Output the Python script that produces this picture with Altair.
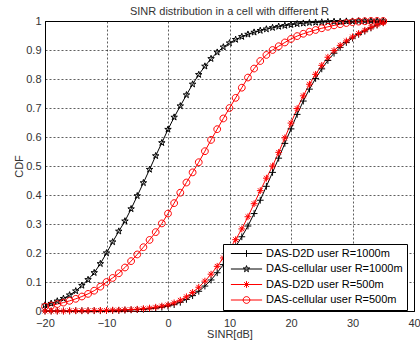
import altair as alt
import pandas as pd

SINR = list(range(-20, 36))

SERIES = [
    "DAS-D2D user R=1000m",
    "DAS-cellular user R=1000m",
    "DAS-D2D user R=500m",
    "DAS-cellular user R=500m",
]
COLORS = ["#000000", "#000000", "#ff0000", "#ff0000"]

D2D_1000 = [0.000, 0.000, 0.000, 0.000, 0.000, 0.001, 0.001, 0.001, 0.001, 0.001,
            0.002, 0.002, 0.002, 0.003, 0.004, 0.005, 0.006, 0.008, 0.010, 0.013,
            0.017, 0.022, 0.030, 0.040, 0.053, 0.068, 0.086, 0.107, 0.132, 0.160,
            0.192, 0.222, 0.256, 0.293, 0.336, 0.382, 0.430, 0.478, 0.527, 0.578,
            0.628, 0.678, 0.724, 0.765, 0.802, 0.835, 0.864, 0.889, 0.909, 0.926,
            0.941, 0.954, 0.965, 0.976, 0.986, 0.994]
CELL_1000 = [0.020, 0.026, 0.034, 0.043, 0.055, 0.069, 0.088, 0.108, 0.132, 0.163,
             0.200, 0.238, 0.275, 0.310, 0.352, 0.397, 0.442, 0.488, 0.535, 0.580,
             0.626, 0.668, 0.707, 0.745, 0.782, 0.815, 0.844, 0.870, 0.892, 0.910,
             0.924, 0.936, 0.946, 0.954, 0.961, 0.967, 0.972, 0.977, 0.981, 0.984,
             0.987, 0.990, 0.992, 0.994, 0.995, 0.996, 0.997, 0.998, 0.998, 0.999,
             0.999, 1.000, 1.000, 1.000, 1.000, 1.000]
D2D_500 = [0.000, 0.000, 0.000, 0.000, 0.001, 0.001, 0.001, 0.001, 0.002, 0.002,
           0.002, 0.003, 0.003, 0.004, 0.005, 0.006, 0.008, 0.010, 0.013, 0.017,
           0.021, 0.028, 0.037, 0.049, 0.064, 0.082, 0.103, 0.127, 0.154, 0.183,
           0.214, 0.246, 0.283, 0.325, 0.370, 0.415, 0.458, 0.500, 0.547, 0.597,
           0.648, 0.698, 0.742, 0.782, 0.816, 0.847, 0.875, 0.898, 0.916, 0.931,
           0.945, 0.957, 0.968, 0.978, 0.987, 0.994]
CELL_500 = [0.015, 0.019, 0.024, 0.029, 0.035, 0.042, 0.050, 0.059, 0.070, 0.084,
            0.100, 0.114, 0.130, 0.150, 0.172, 0.195, 0.220, 0.245, 0.272, 0.302,
            0.336, 0.372, 0.408, 0.443, 0.478, 0.513, 0.551, 0.590, 0.627, 0.664,
            0.700, 0.735, 0.770, 0.805, 0.836, 0.862, 0.883, 0.900, 0.913, 0.926,
            0.938, 0.948, 0.956, 0.963, 0.969, 0.975, 0.980, 0.985, 0.989, 0.993,
            0.996, 0.998, 0.999, 1.000, 1.000, 1.000]

X_TICKS = [-20, -10, 0, 10, 20, 30, 40]
Y_TICKS = [0, 0.1, 0.2, 0.3, 0.4, 0.5, 0.6, 0.7, 0.8, 0.9, 1]

# marker shapes (unit square paths)
PLUS = "M-1,0L1,0M0,-1L0,1"
STAR = ("M0,-1L0.2245,-0.309L0.951,-0.309L0.363,0.118L0.588,0.809L0,0.382"
        "L-0.588,0.809L-0.363,0.118L-0.951,-0.309L-0.2245,-0.309Z")
ASTER = "M-1,0L1,0M0,-1L0,1M-0.7,-0.7L0.7,0.7M-0.7,0.7L0.7,-0.7"
CIRCLE = "M1,0A1,1,0,1,1,-1,0A1,1,0,1,1,1,0Z"
MARKERS = [PLUS, STAR, ASTER, CIRCLE]
LINE = "M-4.6,0L4.6,0"
LEGEND_SHAPES = [LINE + m for m in MARKERS]

rows = []
for name, vals in zip(SERIES, [D2D_1000, CELL_1000, D2D_500, CELL_500]):
    for xv, yv in zip(SINR, vals):
        rows.append({"series": name, "sinr": xv, "cdf": yv})
df = pd.DataFrame(rows)

FONT = "Liberation Sans"

x_enc = alt.X("sinr:Q",
              scale=alt.Scale(domain=[-20, 40], nice=False, zero=False),
              axis=alt.Axis(values=X_TICKS, title="SINR[dB]", format="d",
                            labelFlush=False, labelPadding=6, titlePadding=0))
y_enc = alt.Y("cdf:Q",
              scale=alt.Scale(domain=[0, 1], nice=False),
              axis=alt.Axis(values=Y_TICKS, title="CDF", format="~g",
                            labelFlush=False, labelPadding=4, titlePadding=1))

def color_enc(legend=None):
    return alt.Color("series:N", scale=alt.Scale(domain=SERIES, range=COLORS),
                     legend=legend)

base = alt.Chart(df)

lines = base.mark_line(strokeWidth=1).encode(
    x=x_enc, y=y_enc, color=color_enc(), order="sinr:Q")

points = base.mark_point(filled=False, size=46, strokeWidth=1, opacity=1).encode(
    x=x_enc, y=y_enc, color=color_enc(),
    shape=alt.Shape("series:N", scale=alt.Scale(domain=SERIES, range=MARKERS),
                    legend=None))

leg = alt.Legend(
    title=None, orient="none", legendX=178, legendY=223,
    fillColor="white", strokeColor="black", padding=4,
    symbolSize=46, symbolStrokeWidth=1, symbolOffset=14,
    labelFont=FONT, labelFontSize=11, labelColor="#000000", labelOffset=14,
    labelExpr="datum.label + '\u00a0\u00a0\u00a0'",
    rowPadding=3.5, symbolOpacity=1,
)

legend_layer = base.transform_filter("datum.sinr > 1000").mark_point(
    filled=False, size=46, strokeWidth=1, opacity=1, clip=True).encode(
    x=x_enc, y=y_enc, color=color_enc(leg),
    shape=alt.Shape("series:N", scale=alt.Scale(domain=SERIES, range=LEGEND_SHAPES),
                    legend=leg))

chart = alt.layer(lines, points, legend_layer).resolve_scale(
    color="independent", shape="independent"
).properties(
    width=369, height=290,
    title=alt.Title("SINR distribution in a cell with different R",
                    font=FONT, fontSize=11, fontWeight="normal", color="#333333",
                    offset=5, dy=7, anchor="middle"),
    autosize=alt.AutoSizeParams(type="none"),
    padding={"left": 45, "top": 21, "right": 6, "bottom": 36},
).configure_view(
    stroke="black", strokeWidth=1
).configure_axis(
    labelFont=FONT, labelFontSize=11, labelColor="#333333",
    titleFont=FONT, titleFontSize=11, titleFontWeight="normal", titleColor="#333333",
    domainColor="black", domainWidth=1,
    ticks=False,
    grid=True, gridColor="black", gridDash=[2, 2], gridWidth=0.7, gridOpacity=0.9,
)

chart.save("out.html", embed_options={"renderer": "svg", "actions": False})
